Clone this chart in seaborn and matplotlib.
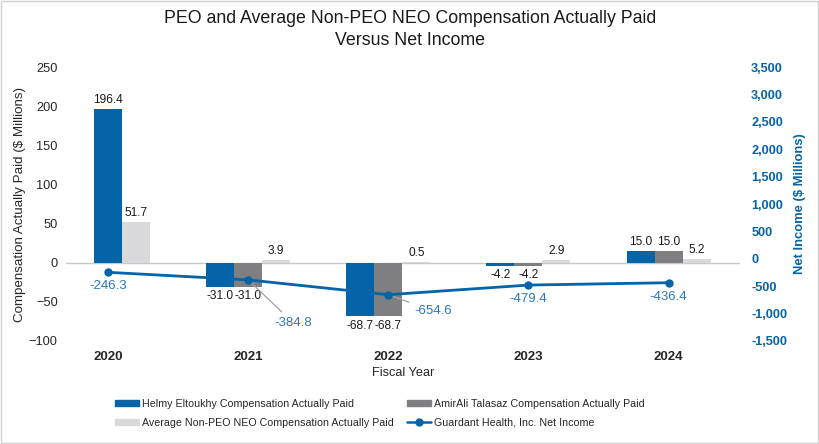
import matplotlib.pyplot as plt
import numpy as np
import seaborn as sns
from matplotlib.patches import Patch
from matplotlib.lines import Line2D

years = ["2020", "2021", "2022", "2023", "2024"]
helmy = [196.4, -31.0, -68.7, -4.2, 15.0]
amirali = [np.nan, -31.0, -68.7, -4.2, 15.0]
avg_neo = [51.7, 3.9, 0.5, 2.9, 5.2]
net_income = [-246.3, -384.8, -654.6, -479.4, -436.4]

series_names = [
    "Helmy Eltoukhy Compensation Actually Paid",
    "AmirAli Talasaz Compensation Actually Paid",
    "Average Non-PEO NEO Compensation Actually Paid",
]
line_name = "Guardant Health, Inc. Net Income"

BLUE = "#0563a8"
GRAY = "#7f7f82"
LIGHT = "#d9d9db"
LABEL_BLUE = "#2a78bd"

sns.set_theme(style="white")
plt.rcParams["font.family"] = ["Liberation Sans", "DejaVu Sans"]

fig = plt.figure(figsize=(8.2, 4.44), dpi=100)
ax = fig.add_axes([0.0805, 0.232, 0.822, 0.617])
ax2 = ax.twinx()

series = [helmy, amirali, avg_neo]
colors = [BLUE, GRAY, LIGHT]
width = 0.2
x = np.arange(len(years))

for i, yr in enumerate(years):
    for k in range(3):
        val = series[k][i]
        if np.isnan(val):
            continue
        slot = k - 1
        # no second PEO that year -> the PEO bar sits in the middle slot
        if k == 0 and np.isnan(amirali[i]):
            slot = 0
        pos = x[i] + slot * width
        ax.bar(pos, val, width=width, color=colors[k], linewidth=0, zorder=2)
        if val >= 0:
            ax.text(pos, val + 4, f"{val:.1f}", ha="center", va="bottom",
                    fontsize=8.6, color="#1a1a1a")
        else:
            ax.text(pos, val - 4, f"{val:.1f}", ha="center", va="top",
                    fontsize=8.6, color="#1a1a1a")

ax.axhline(0, color="#c8c8c8", linewidth=1, zorder=1)
ax.set_ylim(-100, 250)
ax.set_yticks(range(-100, 251, 50))
ax.set_xlim(-0.3, 4.51)
ax.set_xticks(x)
ax.set_xticklabels(years, fontweight="bold", fontsize=9.5)
ax.tick_params(axis="y", labelsize=9.2, colors="#262626", length=0, pad=6)
ax.tick_params(axis="x", length=0, pad=7)
ax.set_xlabel("Fiscal Year", fontsize=9.2, labelpad=3)
ax.set_ylabel("Compensation Actually Paid ($ Millions)", fontsize=9.6, labelpad=2)

sns.lineplot(x=x, y=net_income, ax=ax2, color=BLUE, marker="o",
             markersize=6, markeredgewidth=0, linewidth=2, zorder=5)
ax2.set_ylim(-1500, 3500)
ax2.set_yticks(range(-1500, 3501, 500))
ax2.set_yticklabels([f"{v:,}" for v in range(-1500, 3501, 500)],
                    fontweight="bold", color=BLUE, fontsize=9.2)
ax2.tick_params(axis="y", length=0, pad=8)
ax2.set_ylabel("Net Income ($ Millions)", fontsize=9.4, fontweight="bold",
               color=BLUE, labelpad=5)

# line labels (some with leader lines)
offsets = [(0, -10), (19, -31), (19, -12), (0, -10), (0, -10)]
for i, v in enumerate(net_income):
    dx, dy = offsets[i]
    leader = dict(arrowstyle="-", color="#a0a0a0", lw=0.9,
                  shrinkA=2, shrinkB=0) if dx else None
    ax2.annotate(f"{v:.1f}", (x[i], v), xytext=(dx, dy),
                 textcoords="offset points", ha="left" if dx else "center",
                 va="center", fontsize=9.5, color=LABEL_BLUE,
                 arrowprops=leader)

for a in (ax, ax2):
    for s in a.spines.values():
        s.set_visible(False)

fig.suptitle("PEO and Average Non-PEO NEO Compensation Actually Paid\nVersus Net Income",
             fontsize=12.8, y=0.978, color="#1a1a1a", linespacing=1.4)

handles = [
    Patch(color=BLUE, label=series_names[0]),
    Patch(color=LIGHT, label=series_names[2]),
    Patch(color=GRAY, label=series_names[1]),
    Line2D([], [], color=BLUE, marker="o", markersize=5, lw=1.8, label=line_name),
]
fig.legend(handles=handles, ncol=2, loc="upper left",
           bbox_to_anchor=(115 / 820, 1 - 399 / 444),
           frameon=False, fontsize=7.7, handlelength=2.25, handleheight=0.5,
           columnspacing=1.2, handletextpad=0.3, labelspacing=0.8,
           borderpad=0, borderaxespad=0)

fig.patches.append(plt.Rectangle((0.001, 0.002), 0.997, 0.995, fill=False,
                                 edgecolor="#d0d0d0", lw=1,
                                 transform=fig.transFigure))

fig.savefig("out.png", dpi=100)
